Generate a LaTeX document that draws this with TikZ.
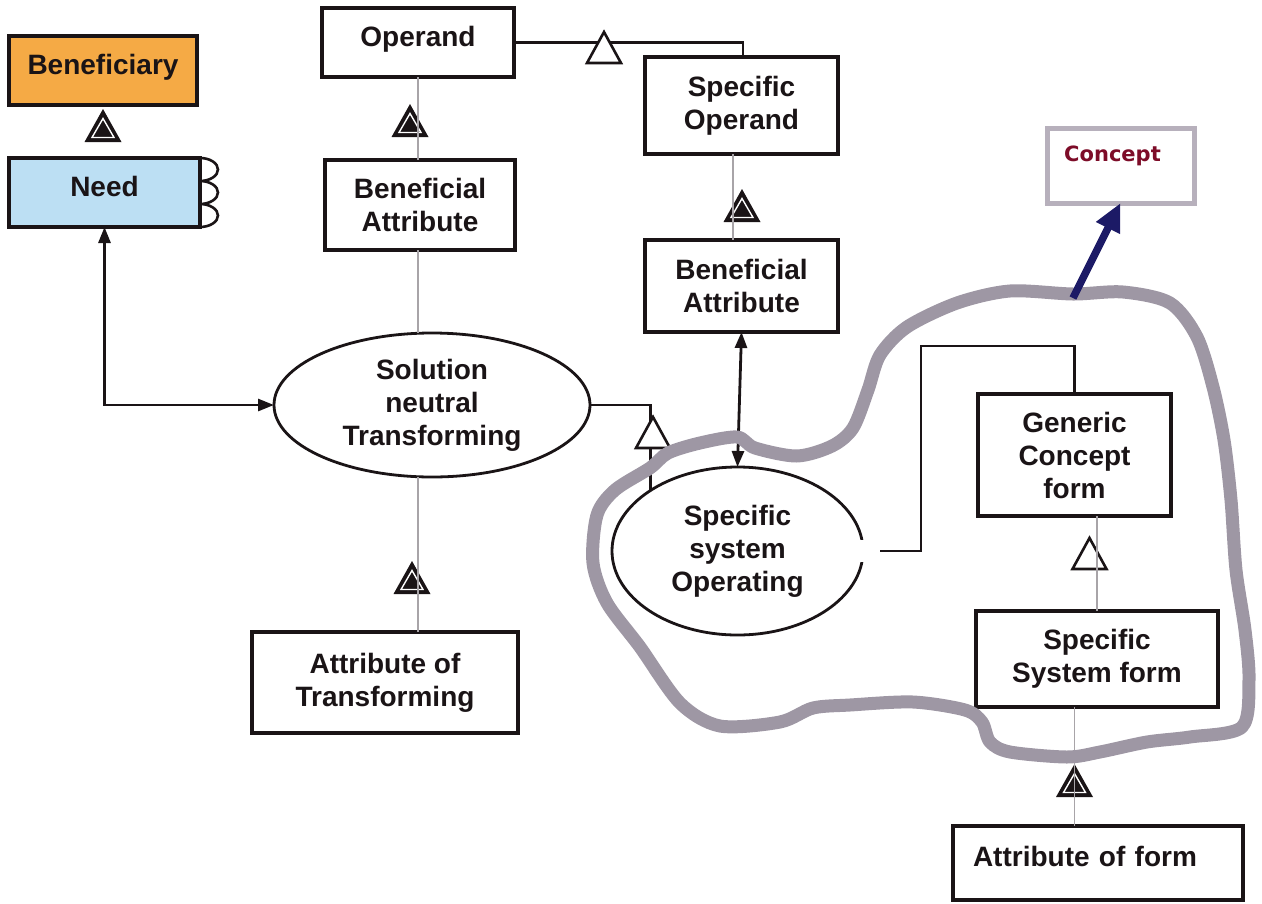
\documentclass[tikz,border=0pt]{standalone}
\usepackage{fontspec}
\setmainfont{Liberation Sans}
\newfontfamily\conceptfont{DejaVu Sans}
\usetikzlibrary{arrows.meta,shapes.geometric,calc}

\definecolor{ink}{HTML}{1A1416}
\definecolor{benorange}{HTML}{F5AA45}
\definecolor{needblue}{HTML}{BCDFF3}
\definecolor{linkgray}{HTML}{A8A4A8}
\definecolor{blobgray}{HTML}{9E97A4}
\definecolor{navy}{HTML}{1C1A66}
\definecolor{conceptred}{HTML}{7D0C28}
\definecolor{cptframe}{HTML}{B7B0BC}

\begin{document}
\begin{tikzpicture}[x=1pt,y=-1pt,
  >={Triangle[length=16pt,width=12pt]},
  lab/.style={font=\fontsize{28}{33}\selectfont\bfseries, text=ink,
    align=center, inner sep=0pt, outer sep=0pt},
  objbox/.style={lab, rectangle, draw=ink, line width=3.2pt, fill=white},
  procell/.style={lab, ellipse, draw=ink, line width=2.8pt, fill=white},
  link/.style={draw=linkgray, line width=1.2pt},
  wire/.style={draw=ink, line width=2.8pt},
  aggr/.pic={
    \fill[ink] (-18.5,0) -- (18.5,0) -- (0,-33) -- cycle;
    \draw[white, line width=1.4pt, fill=ink] (-11,-4.5) -- (11,-4.5) -- (0,-23.5) -- cycle;
  },
  gener/.pic={
    \draw[ink, line width=2.6pt, fill=white, line join=miter] (-17,0) -- (17,0) -- (0,-31) -- cycle;
  }]
\useasboundingbox (0,0) rectangle (1262,903);

% objects and processes
\node[objbox, fill=benorange, minimum width=188, minimum height=69, text depth=12pt] (ben) at (103,70.5) {Beneficiary};
\node[objbox, fill=needblue, minimum width=191, minimum height=69, text depth=12pt] (need) at (104.5,192.5) {Need};
\node[objbox, minimum width=192, minimum height=69, text depth=12pt] (opd) at (418,42.5) {Operand};
\node[objbox, minimum width=193, minimum height=97] (spo) at (741.5,105.5) {Specific\\Operand};
\node[objbox, minimum width=190, minimum height=90] (bal) at (420,205) {Beneficial\\Attribute};
\node[objbox, minimum width=193, minimum height=92] (bar) at (741.5,286) {Beneficial\\Attribute};
\node[objbox, minimum width=266, minimum height=101] (aot) at (385,682.5) {Attribute of\\Transforming};
\node[objbox, minimum width=193, minimum height=122] (gcf) at (1074.5,455) {Generic\\Concept\\form};
\node[objbox, minimum width=242, minimum height=96] (ssf) at (1097,659) {Specific\\System form};
\node[objbox, minimum width=290, minimum height=74, text width=250pt, align=left,
      inner xsep=20pt, text depth=14pt] (aof) at (1098,863) {Attribute of form};
\node[procell, minimum width=316, minimum height=144] (snt) at (432,405) {Solution\\neutral\\Transforming};
\node[procell, minimum width=251, minimum height=168] (sso) at (737.5,551) {Specific\\system\\Operating};
\node[rectangle, draw=cptframe, line width=5pt, fill=white, minimum width=147, minimum height=75,
      inner sep=0pt, outer sep=0pt, text depth=24pt,
      font=\conceptfont\fontsize{21}{24}\selectfont\bfseries, text=conceptred] (cpt) at (1120.5,165.5) {\hspace*{-16pt}Concept};

% the three loops on the side of Need
\draw[ink, line width=2.6pt] (need.north east)
  arc[start angle=90, end angle=-90, x radius=18pt, y radius=11.5pt]
  arc[start angle=90, end angle=-90, x radius=18pt, y radius=11.5pt]
  arc[start angle=90, end angle=-90, x radius=18pt, y radius=11.5pt];

% open end of the process on its right side
\fill[white] ([shift={(-5,-11)}]sso.east) rectangle ([shift={(5,11)}]sso.east);

% structural links
\draw[wire, <->] (need.south) |- (snt.west);
\draw[wire] (opd.east) -| ([xshift=1.5pt]spo.north);
\draw[wire] (snt.east) -| (sso.145);
\draw[wire, <->] (bar.south) -- (sso.north);
\draw[wire] (sso.east) ++(17,0) -- ++(41,0) |- ([yshift=48pt]gcf.north) -- (gcf.north);

% relation symbols
\pic at (103,142) {aggr};
\pic at (410,137) {aggr};
\pic at (742,222) {aggr};
\pic at (412,594) {aggr};
\pic at (1074.5,797) {aggr};
\pic at (604,63) {gener};
\pic at (653,448) {gener};
\pic at (1089.5,569) {gener};

% thin links
\draw[link] (opd.south) -- (opd.south |- bal.north);
\draw[link] (bal.south -| opd.south) -- (snt.north -| opd.south);
\draw[link] (snt.south -| opd.south) -- (opd.south |- aot.north);
\draw[link] ([xshift=-8.5pt]spo.south) -- ([xshift=-8.5pt]bar.north);
\draw[link] (gcf.south -| ssf.north) -- (ssf.north);
\draw[link] ([xshift=-22.5pt]ssf.south) -- ([xshift=-23.5pt]aof.north);

% hand-drawn outline around the concept
\draw[blobgray, line width=13pt, line join=round]
  plot[smooth cycle, tension=0.5] coordinates {
  (1073,294) (1123,292) (1170,303) (1197,337) (1213,387) (1224,440) (1231,500)
  (1236,570) (1245,630) (1249,680) (1242,727) (1190,737) (1147,742) (1100,752)
  (1067,757) (1010,752) (990,742) (982,722) (965,710) (913,702) (850,705)
  (813,708) (780,722) (720,726) (680,703) (640,647) (607,603) (593,563)
  (597,515) (615,490) (650,468) (668,453) (700,443) (737,437) (755,448)
  (797,456) (832,446) (853,428) (868,390) (880,355) (907,327) (957,303) (1010,291)};

\coordinate (cptfoot) at (1073,298);
\draw[navy, line width=7.5pt, -{Triangle[length=28pt,width=25pt]}] (cptfoot) -- (cpt.south);
\end{tikzpicture}
\end{document}
